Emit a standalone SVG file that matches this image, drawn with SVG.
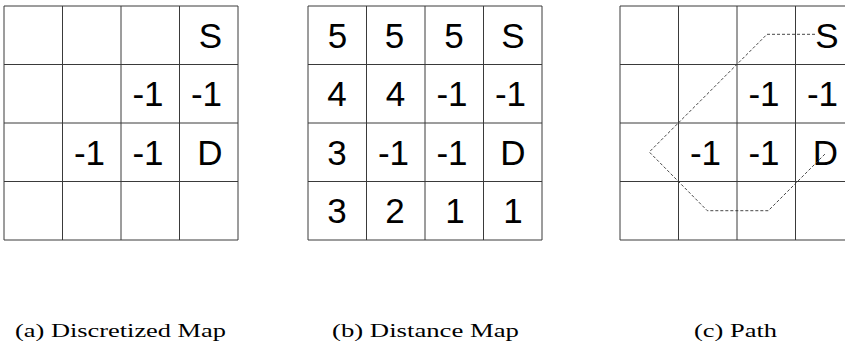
<svg xmlns="http://www.w3.org/2000/svg" width="845" height="344" viewBox="0 0 845 344">
<style>
.g{stroke:#3a3a3a;stroke-width:1;fill:none}
.t{font-family:"Liberation Sans",Arial,sans-serif;font-size:35px;fill:#000;text-anchor:middle}
.c{font-family:"Liberation Serif","Times New Roman",serif;font-size:19px;fill:#000}
.p{stroke:#333;stroke-width:0.9;fill:none;stroke-dasharray:3 2}
</style>
<rect width="845" height="344" fill="#fff"/>
<g id="panel-a">
<path class="g" d="M4,6V240M62.5,6V240M121,6V240M179.5,6V240M238,6V240M4,6H238M4,64.5H238M4,123H238M4,181.5H238M4,240H238"/>
<text class="t" x="210.5" y="47.5">S</text>
<text class="t" x="148" y="106">-1</text>
<text class="t" x="206.5" y="106">-1</text>
<text class="t" x="89.5" y="164.5">-1</text>
<text class="t" x="148" y="164.5">-1</text>
<text class="t" x="210" y="164.5">D</text>
</g>
<g id="panel-b">
<path class="g" d="M308,6V240M366.5,6V240M425,6V240M483.5,6V240M542,6V240M308,6H542M308,64.5H542M308,123H542M308,181.5H542M308,240H542"/>
<text class="t" x="337.5" y="47.5">5</text>
<text class="t" x="394.5" y="47.5">5</text>
<text class="t" x="454" y="47.5">5</text>
<text class="t" x="513" y="47.5">S</text>
<text class="t" x="337" y="106">4</text>
<text class="t" x="395.5" y="106">4</text>
<text class="t" x="452" y="106">-1</text>
<text class="t" x="510.5" y="106">-1</text>
<text class="t" x="337" y="164.5">3</text>
<text class="t" x="393.5" y="164.5">-1</text>
<text class="t" x="452" y="164.5">-1</text>
<text class="t" x="513" y="164.5">D</text>
<text class="t" x="337" y="223">3</text>
<text class="t" x="395" y="223">2</text>
<text class="t" x="455" y="223">1</text>
<text class="t" x="513" y="223">1</text>
</g>
<g id="panel-c">
<path class="g" d="M620,6V240M678.5,6V240M737,6V240M795.5,6V240M854,6V240M620,6H854M620,64.5H854M620,123H854M620,181.5H854M620,240H854"/>
<text class="t" x="827" y="47.5">S</text>
<text class="t" x="764" y="106">-1</text>
<text class="t" x="822.5" y="106">-1</text>
<text class="t" x="705.5" y="164.5">-1</text>
<text class="t" x="764" y="164.5">-1</text>
<text class="t" x="825.5" y="164.5">D</text>
</g>
<g id="connectors">
<polyline class="p" points="815,34.3 767,34.3 649.3,152 707.3,210.7 768.3,210.7 825,154"/>
</g>
<g id="captions">
<text class="c" x="15" y="336.5" textLength="211" lengthAdjust="spacingAndGlyphs">(a) Discretized Map</text>
<text class="c" x="332" y="336.5" textLength="187" lengthAdjust="spacingAndGlyphs">(b) Distance Map</text>
<text class="c" x="694" y="336.5" textLength="83" lengthAdjust="spacingAndGlyphs">(c) Path</text>
</g>
</svg>
